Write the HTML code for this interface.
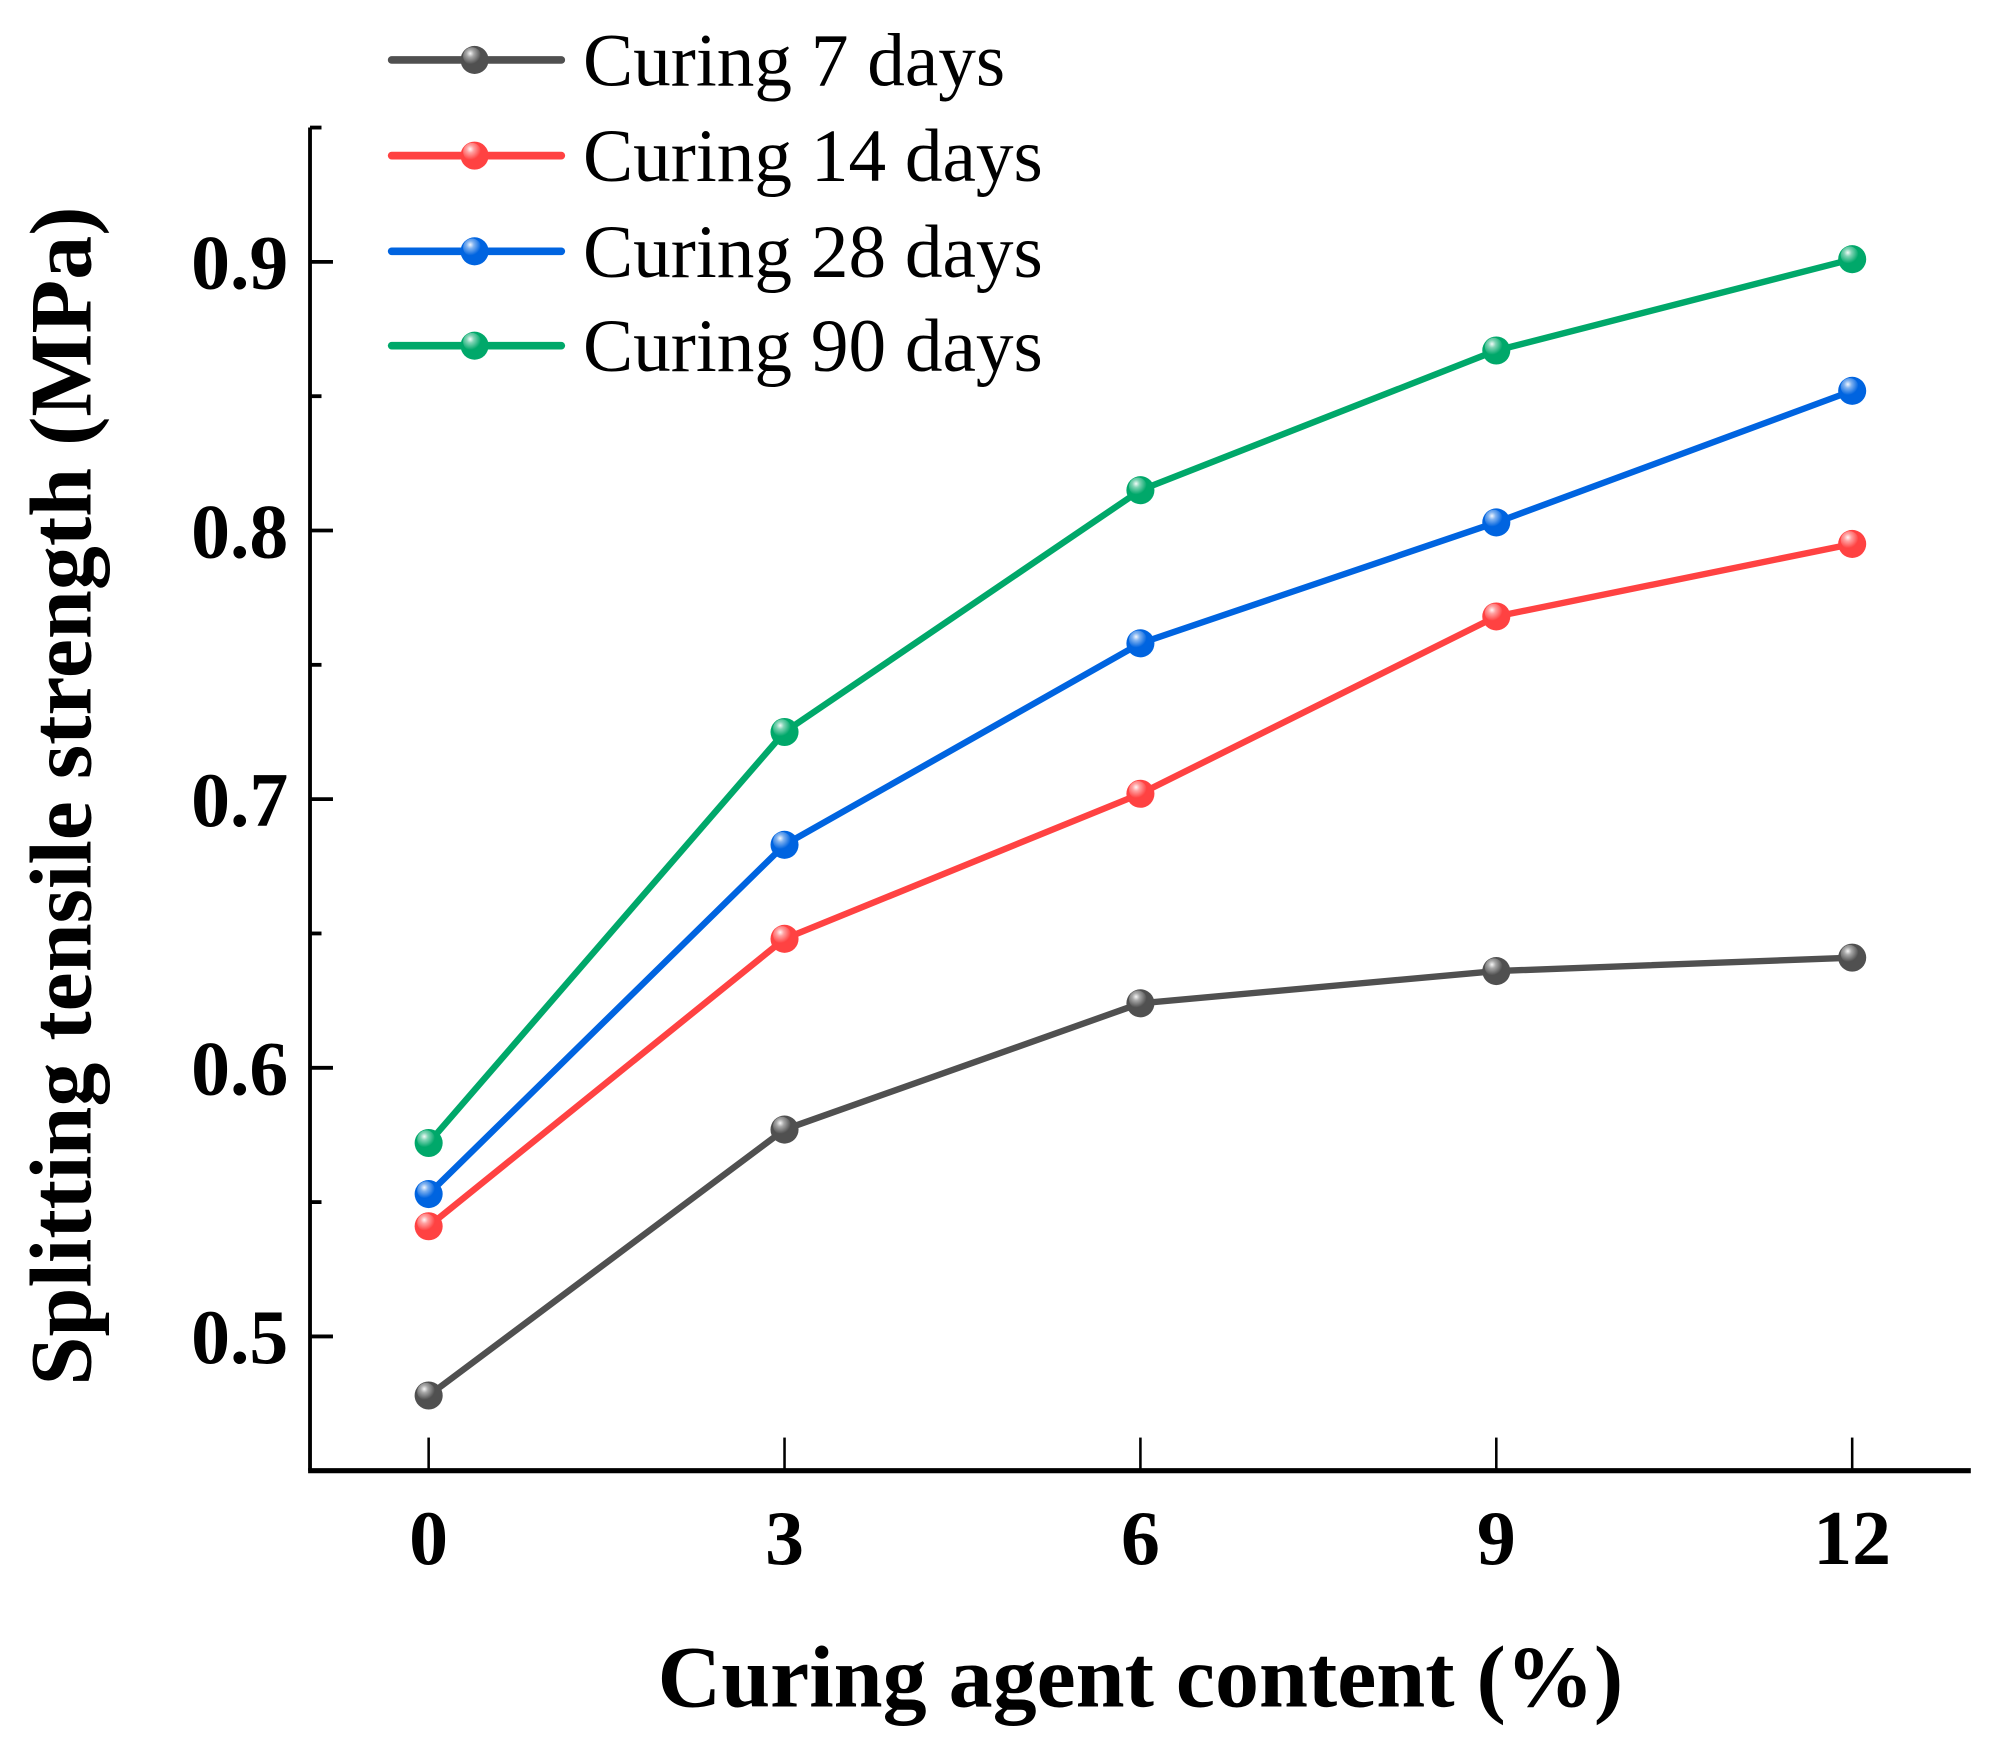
<!DOCTYPE html>
<html><head><meta charset="utf-8"><style>html,body{margin:0;padding:0;background:#fff}svg{display:block}</style></head>
<body>
<svg id="chart" width="1990" height="1746" viewBox="0 0 1560 1368.8" xmlns="http://www.w3.org/2000/svg" font-family="'Liberation Serif', serif">
<defs>
<radialGradient id="hl" cx="0.4" cy="0.35" r="0.6"><stop offset="0" stop-color="#fff" stop-opacity="0.95"/><stop offset="0.35" stop-color="#fff" stop-opacity="0.5"/><stop offset="1" stop-color="#fff" stop-opacity="0"/></radialGradient>
</defs>
<g id="axes"></g>
<g id="series"></g>
<g id="legend"></g>
</svg>
<script>
const categories = [0, 3, 6, 9, 12];
const s7 = [0.478, 0.577, 0.624, 0.636, 0.641];
const s14 = [0.541, 0.648, 0.702, 0.768, 0.795];
const s28 = [0.553, 0.683, 0.758, 0.803, 0.852];
const s90 = [0.572, 0.725, 0.815, 0.867, 0.901];
const seriesNames = ['Curing 7 days', 'Curing 14 days', 'Curing 28 days', 'Curing 90 days'];
const yTicks = [0.5, 0.6, 0.7, 0.8, 0.9];
const yTickLabels = ['0.5', '0.6', '0.7', '0.8', '0.9'];
const xTickLabels = ['0', '3', '6', '9', '12'];

const NS = 'http://www.w3.org/2000/svg';
const L = 243, R = 1545, T = 100, B = 1153;
const xMin = -1, xMax = 13, yMin = 0.45, yMax = 0.95;
const xs = v => L + (v - xMin) / (xMax - xMin) * (R - L);
const ys = v => B - (v - yMin) / (yMax - yMin) * (B - T);
function mk(tag, attrs, parent) { const e = document.createElementNS(NS, tag); for (const k in attrs) e.setAttribute(k, attrs[k]); parent.appendChild(e); return e; }

const axes = document.getElementById('axes');
const yAxis = mk('line', {x1: L, y1: T, x2: L, y2: B, stroke: '#000', 'stroke-width': 3}, axes);


mk('line', {x1: L, y1: T, x2: L + 9, y2: T, stroke: '#000', 'stroke-width': 3}, axes);
const xAxis = mk('line', {x1: L - 1.5, y1: B, x2: R, y2: B, stroke: '#000', 'stroke-width': 4}, axes);


yTicks.forEach((v, i) => {
  const y = ys(v);
  mk('line', {x1: L, y1: y, x2: L + 18, y2: y, stroke: '#000', 'stroke-width': 3}, axes);
  const minor = v + 0.05;
  if (minor < yMax) mk('line', {x1: L, y1: ys(minor), x2: L + 9, y2: ys(minor), stroke: '#000', 'stroke-width': 3}, axes);
  const t = mk('text', {x: 226, y: y + 21, 'text-anchor': 'end', 'font-size': 61, 'font-weight': 'bold'}, axes);
  t.textContent = yTickLabels[i];
  
  
});
categories.forEach((c, i) => {
  const x = xs(c);
  mk('line', {x1: x, y1: B - 26, x2: x, y2: B, stroke: '#000', 'stroke-width': 2}, axes);
  const t = mk('text', {x: x, y: 1226, 'text-anchor': 'middle', 'font-size': 61, 'font-weight': 'bold'}, axes);
  t.textContent = xTickLabels[i];
  
  
});
const xt = mk('text', {x: 894, y: 1338, 'text-anchor': 'middle', 'font-size': 69, 'font-weight': 'bold'}, axes);
xt.textContent = 'Curing agent content (%)';


const yt = mk('text', {x: 0, y: 0, 'text-anchor': 'middle', 'font-size': 69, 'font-weight': 'bold', transform: 'translate(71,624) rotate(-90)'}, axes);
yt.textContent = 'Splitting tensile strength (MPa)';



const data = [s7, s14, s28, s90];
const colors = ['#505050', '#ff4242', '#0064e0', '#00a86a'];
const keys = ['7', '14', '28', '90'];
const sg = document.getElementById('series');
function marker(x, y, col, parent) {
  mk('circle', {cx: x, cy: y, r: 11, fill: col}, parent);
  mk('circle', {cx: x - 2, cy: y - 3, r: 7, fill: 'url(#hl)'}, parent);
}
data.forEach((vals, si) => {
  const g = mk('g', {}, sg);
  
  
  const pts = vals.map((v, i) => xs(categories[i]) + ',' + ys(v)).join(' ');
  const pl = mk('polyline', {points: pts, fill: 'none', stroke: colors[si], 'stroke-width': 5, 'stroke-linejoin': 'round'}, g);
  
  
  vals.forEach((v, i) => {
    const pg = mk('g', {}, g);
    
    
    marker(xs(categories[i]), ys(v), colors[si], pg);
  });
});
const lg = document.getElementById('legend');


const legY = [47, 122, 197, 271];
seriesNames.forEach((n, i) => {
  const g = mk('g', {}, lg);
  
  
  mk('line', {x1: 307, y1: legY[i], x2: 440, y2: legY[i], stroke: colors[i], 'stroke-width': 6, 'stroke-linecap': 'round'}, g);
  marker(372, legY[i], colors[i], g);
  const t = mk('text', {x: 457, y: legY[i] + 20, 'font-size': 59}, g);
  t.textContent = n;
});
</script>
</body></html>
